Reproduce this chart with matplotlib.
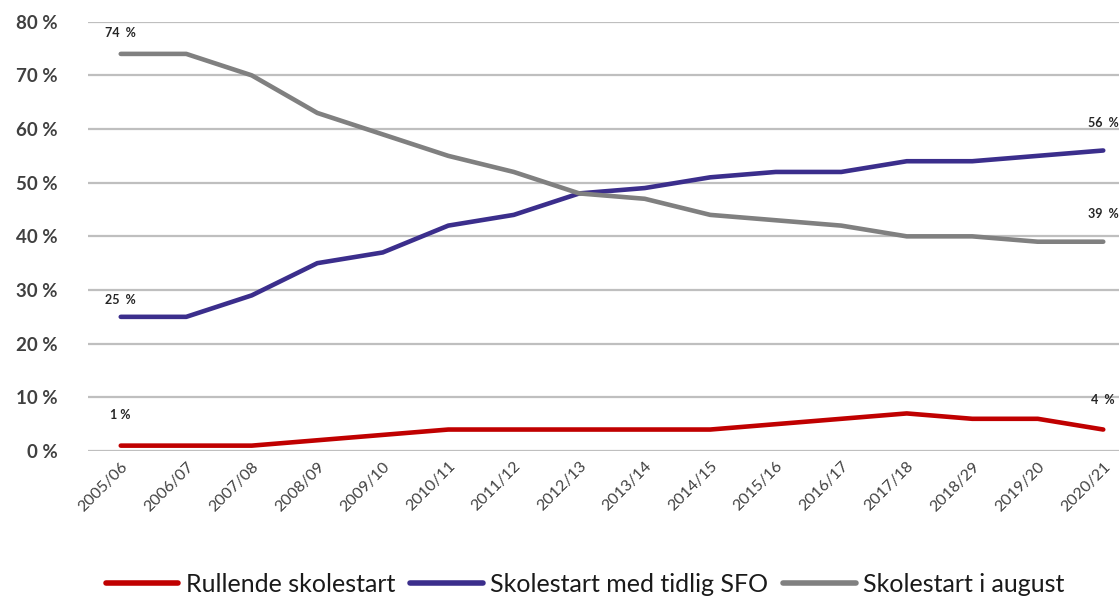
import numpy as np
import matplotlib
matplotlib.use("Agg")
import matplotlib.pyplot as plt
import matplotlib.ticker as ticker

# ── data (share of municipalities, %) ────────────────────────────────────────
years = ["2005/06", "2006/07", "2007/08", "2008/09", "2009/10", "2010/11",
         "2011/12", "2012/13", "2013/14", "2014/15", "2015/16", "2016/17",
         "2017/18", "2018/29", "2019/20", "2020/21"]

rullende = [1, 1, 1, 2, 3, 4, 4, 4, 4, 4, 5, 6, 7, 6, 6, 4]
tidlig_sfo = [25, 25, 29, 35, 37, 42, 44, 48, 49, 51, 52, 52, 54, 54, 55, 56]
august = [74, 74, 70, 63, 59, 55, 52, 48, 47, 44, 43, 42, 40, 40, 39, 39]

labels = ["Rullende skolestart", "Skolestart med tidlig SFO", "Skolestart i august"]
colors = ["#c00000", "#3b2e8c", "#808080"]

plt.rcParams["font.family"] = ["Lato", "DejaVu Sans"]

fig = plt.figure(figsize=(11.19, 6.01), dpi=100)
ax = fig.add_axes([88 / 1119, 150 / 601, 1048 / 1119, 429.3 / 601])

x = np.arange(len(years))
series = [rullende, tidlig_sfo, august]
for vals, lab, col in zip(series, labels, colors):
    ax.plot(x, vals, color=col, linewidth=3.3, label=lab,
            solid_capstyle="round", solid_joinstyle="round", zorder=3)

# end-point labels (first and last value of each series)
offsets = {0: (22, 21), 1: (12, 20), 2: (15, 20)}
for i, vals in enumerate(series):
    dy0, dy1 = offsets[i]
    for idx, dy in ((0, dy0), (len(vals) - 1, dy1)):
        txt = f"{vals[idx]} %" if (i == 0 and idx == 0) else f"{vals[idx]}  %"
        ax.annotate(txt, (x[idx], vals[idx]), xytext=(0, dy),
                    textcoords="offset points", ha="center", va="center",
                    fontsize=9, fontweight="bold", color="#262626",
                    annotation_clip=False)

ax.set_xlim(-0.5, len(years) - 0.5)
ax.set_ylim(0, 80)
ax.yaxis.set_major_locator(ticker.MultipleLocator(10))
ax.yaxis.set_major_formatter(ticker.FuncFormatter(lambda v, p: f"{v:.0f} %"))
ax.set_xticks(x)
ax.set_xticklabels(years, rotation=45, ha="right", rotation_mode="anchor")

ax.grid(axis="y", color="#bfbfbf", linewidth=1.6, zorder=0)
ax.set_axisbelow(True)
for s in ax.spines.values():
    s.set_visible(False)
ax.tick_params(axis="both", length=0, colors="#404040")
ax.tick_params(axis="y", labelsize=13.5, pad=22)
ax.tick_params(axis="x", labelsize=11.5, pad=6)
for t in ax.get_yticklabels():
    t.set_fontweight("bold")

leg = fig.legend(loc="center", bbox_to_anchor=(0.523, 0.028), ncol=3, frameon=False,
                 fontsize=18, handlelength=2.9, columnspacing=0.6, handletextpad=0.3,
                 labelcolor="#1a1a1a")
for h in leg.legend_handles:
    h.set_linewidth(4)

fig.savefig("out.png", dpi=100)
